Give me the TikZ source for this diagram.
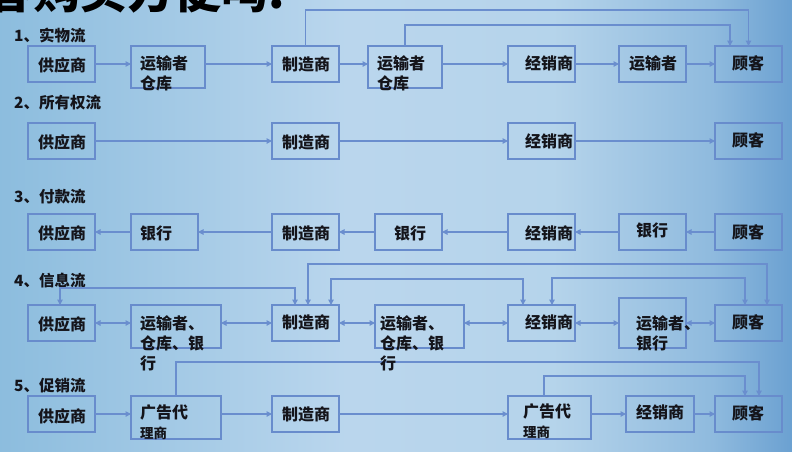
\documentclass[tikz,border=0pt]{standalone}
\usepackage{fontspec}
\newfontfamily\cjk{Noto Sans CJK SC}
\usetikzlibrary{arrows.meta}
\definecolor{boxc}{RGB}{104,140,204}
\definecolor{linec}{RGB}{106,142,206}
\definecolor{txt}{RGB}{20,20,26}
\pgfdeclarehorizontalshading{bgshade}{100bp}{rgb(0bp)=(0.55,0.74,0.87); rgb(25bp)=(0.55,0.74,0.87); rgb(47bp)=(0.73,0.84,0.93); rgb(60bp)=(0.71,0.83,0.92); rgb(70bp)=(0.56,0.73,0.87); rgb(75bp)=(0.42,0.63,0.82); rgb(100bp)=(0.42,0.63,0.82)}
\tikzset{
 box/.style={draw=boxc, line width=1.2pt, inner sep=0pt, outer sep=0pt},
 lbl/.style={font=\cjk\bfseries\fontsize{16}{20}\selectfont, text=txt, inner sep=0pt},
 mlbl/.style={lbl, align=left, anchor=north west},
 head/.style={font=\cjk\bfseries\fontsize{15.5}{17}\selectfont, text=txt, inner sep=0pt, anchor=west},
 arr/.style={draw=linec, line width=1.1pt, -{Triangle[length=5.5pt,width=5.5pt]}},
 arrb/.style={draw=linec, line width=1.1pt, {Triangle[length=5.5pt,width=5.5pt]}-{Triangle[length=5.5pt,width=5.5pt]}},
}
\newcommand\mkbox[5]{\node[box, minimum width={(#4-#2)*1pt}, minimum height={(#5-#3)*1pt}] (#1) at ({(#2+#4)/2},{(#3+#5)/2}) {};}
\begin{document}
\begin{tikzpicture}[x=1pt,y=-1pt]
\useasboundingbox (0,0) rectangle (792,451);
\clip (0,0) rectangle (792,451);
\shade[shading=bgshade] (0,0) rectangle (792,451);
\node[font=\cjk\bfseries\fontsize{47}{47}\selectfont, text=black, anchor=base west, inner sep=0pt] (title) at (-14,8) {客购买方便吗:};
% headings
\node[head] (h1) at (14,35) {1、实物流};
\node[head] (h2) at (14,103) {2、所有权流};
\node[head] (h3) at (14,197) {3、付款流};
\node[head] (h4) at (14,281) {4、信息流};
\node[head] (h5) at (14,386) {5、促销流};
% row 1
\mkbox{a1}{28}{46}{95}{82}
\mkbox{b1}{131}{46}{205}{88}
\mkbox{c1}{272}{46}{339}{82}
\mkbox{d1}{368}{46}{442}{88}
\mkbox{e1}{508}{46}{575}{82}
\mkbox{f1}{619}{46}{686}{82}
\mkbox{g1}{715}{46}{782}{82}
% row 2
\mkbox{a2}{28}{123}{95}{159}
\mkbox{c2}{272}{123}{339}{159}
\mkbox{e2}{508}{123}{575}{159}
\mkbox{g2}{715}{123}{782}{159}
% row 3
\mkbox{a3}{28}{214}{95}{250}
\mkbox{b3}{131}{214}{198}{250}
\mkbox{c3}{272}{214}{339}{250}
\mkbox{d3}{375}{214}{442}{250}
\mkbox{e3}{508}{214}{575}{250}
\mkbox{f3}{619}{214}{686}{250}
\mkbox{g3}{715}{214}{782}{250}
% row 4
\mkbox{a4}{28}{305}{95}{341}
\mkbox{b4}{131}{305}{221}{348}
\mkbox{c4}{272}{305}{339}{341}
\mkbox{d4}{375}{305}{464}{348}
\mkbox{e4}{508}{305}{575}{341}
\mkbox{f4}{619}{298}{686}{348}
\mkbox{g4}{715}{305}{782}{341}
% row 5
\mkbox{a5}{28}{396}{95}{432}
\mkbox{b5}{131}{396}{221}{439}
\mkbox{c5}{272}{396}{339}{432}
\mkbox{d5}{508}{396}{591}{439}
\mkbox{e5}{626}{396}{694}{432}
\mkbox{g5}{715}{396}{782}{432}
% connectors row 1
\draw[arr] (a1.east) -- (a1.east -| b1.west);
\draw[arr] (c1.west -| b1.east) -- (c1.west);
\draw[arr] (c1.east) -- (c1.east -| d1.west);
\draw[arr] (e1.west -| d1.east) -- (e1.west);
\draw[arr] (e1.east) -- (f1.west);
\draw[arr] (f1.east) -- (g1.west);
\draw[arr] (c1.north) -- ++(0,-36) -| (g1.north);
\draw[arr] (d1.north) -- ++(0,-21) -| ([xshift=-18.5pt]g1.north);
% row 2
\draw[arr] (a2.east) -- (c2.west);
\draw[arr] (c2.east) -- (e2.west);
\draw[arr] (e2.east) -- (g2.west);
% row 3
\draw[arr] (b3.west) -- (a3.east);
\draw[arr] (c3.west) -- (b3.east);
\draw[arr] (d3.west) -- (c3.east);
\draw[arr] (e3.west) -- (d3.east);
\draw[arr] (f3.west) -- (e3.east);
\draw[arr] (g3.west) -- (f3.east);
% row 4
\draw[arrb] (a4.east) -- (a4.east -| b4.west);
\draw[arrb] (c4.west -| b4.east) -- (c4.west);
\draw[arrb] (c4.east) -- (c4.east -| d4.west);
\draw[arrb] (e4.west -| d4.east) -- (e4.west);
\draw[arrb] (e4.east) -- (e4.east -| f4.west);
\draw[arrb] (g4.west -| f4.east) -- (g4.west);
\draw[arrb] ([xshift=-1.5pt]a4.north) -- ++(0,-17) -| ([xshift=-10.5pt]c4.north);
\draw[arrb] ([xshift=2.5pt]c4.north) -- ++(0,-41) -| ([xshift=18.5pt]g4.north);
\draw[arrb] ([xshift=25.5pt]c4.north) -- ++(0,-26) -| ([xshift=-18.5pt]e4.north);
\draw[arrb] ([xshift=10.5pt]e4.north) -- ++(0,-27) -| ([xshift=-3.5pt]g4.north);
% row 5
\draw[arr] (a5.east) -- (a5.east -| b5.west);
\draw[arr] (c5.west -| b5.east) -- (c5.west);
\draw[arr] (c5.east) -- (c5.east -| d5.west);
\draw[arr] (e5.west -| d5.east) -- (e5.west);
\draw[arr] (e5.east) -- (g5.west);
\draw[arr] (b5.north) -- ++(0,-34) -| ([xshift=10.5pt]g5.north);
\draw[arr] ([xshift=-5.5pt]d5.north) -- ++(0,-20) -| ([xshift=-3.5pt]g5.north);
% texts
\node[lbl] (ta1) at (62,65) {供应商};
\node[mlbl] (tb1) at (140,55) {运输者\\仓库};
\node[lbl] (tc1) at (306,64) {制造商};
\node[mlbl] (td1) at (377,55) {运输者\\仓库};
\node[lbl] (te1) at (549,63) {经销商};
\node[lbl] (tf1) at (653,63) {运输者};
\node[lbl] (tg1) at (748,63) {顾客};
\node[lbl] (ta2) at (62,142) {供应商};
\node[lbl] (tc2) at (306,142) {制造商};
\node[lbl] (te2) at (549,141) {经销商};
\node[lbl] (tg2) at (748,140) {顾客};
\node[lbl] (ta3) at (62,233) {供应商};
\node[lbl] (tb3) at (156,233) {银行};
\node[lbl] (tc3) at (306,233) {制造商};
\node[lbl] (td3) at (410,233) {银行};
\node[lbl] (te3) at (549,233) {经销商};
\node[lbl] (tf3) at (652,230) {银行};
\node[lbl] (tg3) at (748,232) {顾客};
\node[lbl] (ta4) at (62,324) {供应商};
\node[mlbl] (tb4) at (140,315) {运输者、\\仓库、银\\行};
\node[lbl] (tc4) at (306,322) {制造商};
\node[mlbl] (td4) at (380,315) {运输者、\\仓库、银\\行};
\node[lbl] (te4) at (549,322) {经销商};
\node[mlbl] (tf4) at (636,315) {运输者、\\银行};
\node[lbl] (tg4) at (748,322) {顾客};
\node[lbl] (ta5) at (62,416) {供应商};
\node[mlbl] (tb5) at (140,405) {广告代\\{\fontsize{13.5}{20}\selectfont 理商}};
\node[lbl] (tc5) at (306,414) {制造商};
\node[mlbl] (td5) at (523,404) {广告代\\{\fontsize{13.5}{20}\selectfont 理商}};
\node[lbl] (te5) at (660,412) {经销商};
\node[lbl] (tg5) at (748,413) {顾客};
\end{tikzpicture}
\end{document}
